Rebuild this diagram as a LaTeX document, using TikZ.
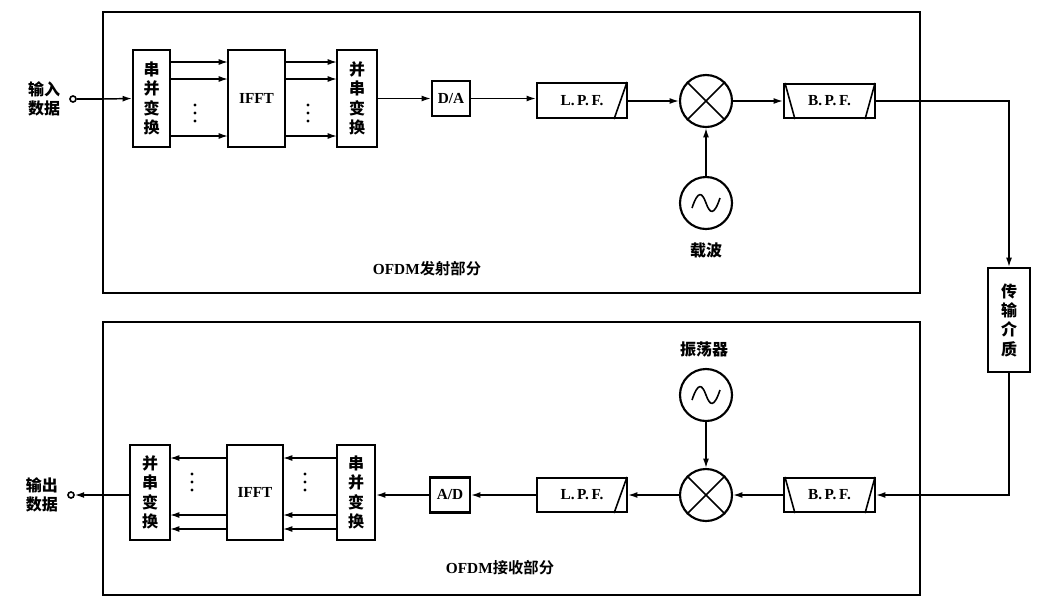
\documentclass[tikz,border=0pt]{standalone}
\usepackage{fontspec}
\setmainfont{Liberation Serif}
\newfontfamily\cjk{Noto Sans CJK SC Black}
\usetikzlibrary{arrows.meta,calc}
\begin{document}
\begin{tikzpicture}[x=0.75pt,y=-0.75pt,
 blk/.style={draw,line width=1.6pt,inner sep=0pt,font=\bfseries\fontsize{11.5}{13}\selectfont},
 cn/.style={font=\cjk\fontsize{12}{14.5}\selectfont,inner sep=0pt},
 ar/.style={-{Latex[length=7pt,width=4.5pt]},line width=1.1pt},
 ln/.style={line width=1.1pt},
 frm/.style={draw,line width=1pt}]
\useasboundingbox (0,0) rectangle (1046,612);
% frames
\draw[frm] (103,12) rectangle (920,293);
\draw[frm] (103,322) rectangle (920,595);
% ---------- transmit
\node[cn,align=center] (inl) at (44,99) {输入\\数据};
\node[draw,circle,line width=1.2pt,inner sep=1.6pt] (inp) at (73,99) {};
\node[blk,minimum width=37*0.75pt,minimum height=97*0.75pt] (sp1) at (151.5,98.5) {};
\node[blk,minimum width=57*0.75pt,minimum height=97*0.75pt] (ifft1) at (256.5,98.5) {IFFT};
\node[blk,minimum width=40*0.75pt,minimum height=97*0.75pt] (ps1) at (357,98.5) {};
\node[cn,align=center] at (sp1) {串\\并\\变\\换};
\node[cn,align=center] at (ps1) {并\\串\\变\\换};
\node[blk,minimum width=38*0.75pt,minimum height=35*0.75pt] (da) at (451,98.5) {D/A};
\node[blk,minimum width=90*0.75pt,minimum height=35*0.75pt] (lpf1) at (582,100.5) {L.\,P.\,F.\hspace{12pt}};
\draw[line width=1.2pt] ($(lpf1.south east)+(-14,0)$) -- ($(lpf1.north east)+(-1,0)$);
\node[draw,circle,line width=1.6pt,minimum size=52*0.75pt,inner sep=0pt] (mx1) at (706,101) {};
\draw[line width=1.2pt] (mx1.45) -- (mx1.225) (mx1.135) -- (mx1.315);
\node[blk,minimum width=91*0.75pt,minimum height=34*0.75pt] (bpf1) at (829.5,101) {B.\,P.\,F.\hspace{4pt}};
\draw[line width=1.2pt] ($(bpf1.north west)+(2,0)$) -- ($(bpf1.south west)+(12,0)$);
\draw[line width=1.2pt] ($(bpf1.south east)+(-11,0)$) -- ($(bpf1.north east)+(-1,0)$);
\node[draw,circle,line width=1.6pt,minimum size=52*0.75pt,inner sep=0pt] (osc1) at (706,203) {};
\draw[line width=1.2pt] (692,208) .. controls (698,190) and (702,192) .. (706,203) .. controls (710,214) and (714,216) .. (720,198);
\node[cn] (zb) at (706,250) {载波};
\node[font=\bfseries\fontsize{11.5}{13}\selectfont,inner sep=0pt] (t1) at (427,269) {OFDM{\cjk 发射部分}};
\draw[ln] (inp) -- (103,99);
\draw[ar] (103,99) -- (sp1.west);
\foreach \y in {62,79,136}{
 \draw[ar] (170,\y) -- (228,\y);
 \draw[ar] (285,\y) -- (337,\y);}
\foreach \x in {195,308}{\foreach \d in {-8,0,8}\fill (\x,113+\d) circle (1.6);}
\draw[ar] (ps1.east) -- (da.west);
\draw[ar] (da.east) -- (da.east -| lpf1.west);
\draw[ar] (lpf1.east |- mx1) -- (mx1.west);
\draw[ar] (mx1.east) -- (bpf1.west);
\draw[ar] (osc1.north) -- (mx1.south);
% channel
\node[blk,minimum width=42*0.75pt,minimum height=104*0.75pt] (ch) at (1009,320) {};
\node[cn,align=center] at (ch) {传\\输\\介\\质};
\draw[ar] (bpf1.east) -- (1009,101) -- (ch.north);
% ---------- receive
\node[blk,minimum width=91*0.75pt,minimum height=34*0.75pt] (bpf2) at (829.5,495) {B.\,P.\,F.\hspace{4pt}};
\draw[line width=1.2pt] ($(bpf2.north west)+(2,0)$) -- ($(bpf2.south west)+(12,0)$);
\draw[line width=1.2pt] ($(bpf2.south east)+(-11,0)$) -- ($(bpf2.north east)+(-1,0)$);
\draw[ar] (ch.south) -- (1009,495) -- (bpf2.east);
\node[draw,circle,line width=1.6pt,minimum size=52*0.75pt,inner sep=0pt] (mx2) at (706,495) {};
\draw[line width=1.2pt] (mx2.45) -- (mx2.225) (mx2.135) -- (mx2.315);
\node[draw,circle,line width=1.6pt,minimum size=52*0.75pt,inner sep=0pt] (osc2) at (706,395) {};
\draw[line width=1.2pt] (692,400) .. controls (698,382) and (702,384) .. (706,395) .. controls (710,406) and (714,408) .. (720,390);
\node[cn] (zdq) at (704,350) {振荡器};
\node[blk,minimum width=90*0.75pt,minimum height=34*0.75pt] (lpf2) at (582,495) {L.\,P.\,F.\hspace{12pt}};
\draw[line width=1.2pt] ($(lpf2.south east)+(-14,0)$) -- ($(lpf2.north east)+(-1,0)$);
\node[blk,minimum width=40*0.75pt,minimum height=35*0.75pt] (ad) at (450,495) {A/D};
\node[blk,minimum width=38*0.75pt,minimum height=95*0.75pt] (sp2) at (356,492.5) {};
\node[blk,minimum width=56*0.75pt,minimum height=95*0.75pt] (ifft2) at (255,492.5) {IFFT};
\node[blk,minimum width=40*0.75pt,minimum height=95*0.75pt] (ps2) at (150,492.5) {};
\node[cn,align=center] at (sp2) {串\\并\\变\\换};
\node[cn,align=center] at (ps2) {并\\串\\变\\换};
\node[draw,circle,line width=1.2pt,inner sep=1.6pt] (outp) at (71,495) {};
\node[cn,align=center] (outl) at (42,495) {输出\\数据};
\node[font=\bfseries\fontsize{11.5}{13}\selectfont,inner sep=0pt] (t2) at (500,568) {OFDM{\cjk 接收部分}};
\draw[ar] (osc2.south) -- (mx2.north);
\draw[ar] (bpf2.west) -- (mx2.east);
\draw[ar] (mx2.west) -- (lpf2.east |- mx2);
\draw[ar] (lpf2.west) -- (ad.east);
\draw[ar] (ad.west) -- (ad.west -| sp2.east);
\foreach \y in {458,515,529}{
 \draw[ar] (337,\y) -- (283,\y);
 \draw[ar] (227,\y) -- (170,\y);}
\foreach \x in {192,305}{\foreach \d in {-8,0,8}\fill (\x,482+\d) circle (1.6);}
\draw[ln] (ps2.west |- outp) -- (103,495);
\draw[ar] (103,495) -- (outp.east);
\end{tikzpicture}
\end{document}
